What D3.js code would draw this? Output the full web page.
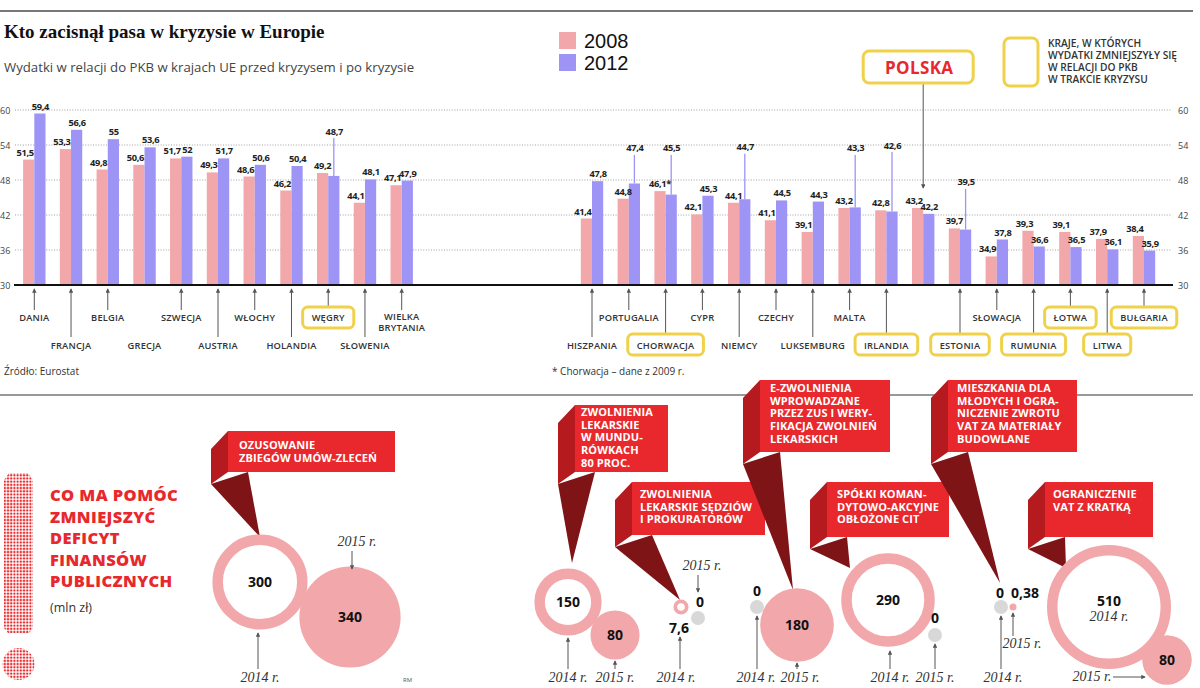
<!DOCTYPE html>
<html>
<head>
<meta charset="utf-8">
<script src="https://cdn.jsdelivr.net/npm/d3@7"></script>
<style>
  body { margin: 0; background: #fff; }
  svg text { font-family: "Open Sans", sans-serif; }
</style>
</head>
<body>
<svg width="1200" height="688"></svg>
<script>
// ---- data: expenditure as % of GDP
var westCountries = ["DANIA", "FRANCJA", "BELGIA", "GRECJA", "SZWECJA", "AUSTRIA", "WŁOCHY", "HOLANDIA", "WĘGRY", "SŁOWENIA", "WIELKA BRYTANIA"];
var west2008 = [51.5, 53.3, 49.8, 50.6, 51.7, 49.3, 48.6, 46.2, 49.2, 44.1, 47.1];
var west2012 = [59.4, 56.6, 55, 53.6, 52, 51.7, 50.6, 50.4, 48.7, 48.1, 47.9];

var eastCountries = ["HISZPANIA", "PORTUGALIA", "CHORWACJA", "CYPR", "NIEMCY", "CZECHY", "LUKSEMBURG", "MALTA", "IRLANDIA", "POLSKA", "ESTONIA", "SŁOWACJA", "RUMUNIA", "ŁOTWA", "LITWA", "BUŁGARIA"];
var east2008 = [41.4, 44.8, 46.1, 42.1, 44.1, 41.1, 39.1, 43.2, 42.8, 43.2, 39.7, 34.9, 39.3, 39.1, 37.9, 38.4];
var east2012 = [47.8, 47.4, 45.5, 45.3, 44.7, 44.5, 44.3, 43.3, 42.6, 42.2, 39.5, 37.8, 36.6, 36.5, 36.1, 35.9];

var yTicks = [30, 36, 42, 48, 54, 60];
var seriesNames = ["2008", "2012"];

// countries where spending fell (yellow boxes)
var decreased = ["WĘGRY", "CHORWACJA", "IRLANDIA", "POLSKA", "ESTONIA", "RUMUNIA", "ŁOTWA", "LITWA", "BUŁGARIA"];

// ---- data: measures to cut the deficit (mln zł)
var measures = [
  ["OZUSOWANIE", "ZBIEGÓW UMÓW-ZLECEŃ"],
  ["ZWOLNIENIA", "LEKARSKIE", "W MUNDU-", "RÓWKACH", "80 PROC."],
  ["ZWOLNIENIA", "LEKARSKIE SĘDZIÓW", "I PROKURATORÓW"],
  ["E-ZWOLNIENIA", "WPROWADZANE", "PRZEZ ZUS I WERY-", "FIKACJA ZWOLNIEŃ", "LEKARSKICH"],
  ["SPÓŁKI KOMAN-", "DYTOWO-AKCYJNE", "OBŁOŻONE CIT"],
  ["MIESZKANIA DLA", "MŁODYCH I OGRA-", "NICZENIE ZWROTU", "VAT ZA MATERIAŁY", "BUDOWLANE"],
  ["OGRANICZENIE", "VAT Z KRATKĄ"]
];
var value2014 = [300, 150, 7.6, 0, 290, 0, 510];
var value2015 = [340, 80, 0, 180, 0, 0.38, 80];

// ---- layout (label heights for raised 2012 values, in axis units)
var raisedLabel = {"WĘGRY": 55.8, "PORTUGALIA": 52.9, "CHORWACJA": 52.9, "NIEMCY": 53.1, "MALTA": 52.9, "IRLANDIA": 53.4, "ESTONIA": 47.1};
var noArrow = ["GRECJA"];

var calloutBoxes = [
  {x: 228, y: 431, w: 167, h: 41, tx: 11, ty: 18, tip: [260, 537]},
  {x: 575, y: 405, w: 93, h: 67, tx: 6, ty: 11, tip: [572, 563]},
  {x: 632, y: 482, w: 133, h: 53, tx: 8, ty: 16, tip: [680, 600]},
  {x: 760, y: 380, w: 130, h: 72, tx: 10, ty: 12, tip: [793, 590]},
  {x: 827, y: 482, w: 122, h: 55, tx: 10, ty: 16, tip: [850, 568]},
  {x: 948, y: 380, w: 129, h: 72, tx: 9, ty: 12, tip: [1000, 583]},
  {x: 1045, y: 482, w: 108, h: 55, tx: 8, ty: 16, tip: [1066, 568]}
];

var bubbleLayout = [
  {p14: [260, 582], p15: [350, 617], l14: [260, 587], l15: [350, 622], t14: [260, 682], a14: [258, 669, 258, 633], t15: [357, 546], a15: [352, 551, 352, 569]},
  {p14: [568, 602], p15: [615, 635], l14: [568, 607], l15: [615, 640], t14: [568, 682], a14: [568, 669, 568, 638], t15: [615, 682], a15: [615, 669, 615, 661]},
  {p14: [681, 607], p15: [698, 618], l14: [679, 633], l15: [700, 607], t14: [676, 682], a14: [680, 669, 680, 637], t15: [702, 570], a15: [698, 575, 698, 592]},
  {p14: [757, 607], p15: [797, 625], l14: [757, 596], l15: [797, 630], t14: [756, 682], a14: [757, 669, 757, 616], t15: [800, 682], a15: [797, 669, 797, 663]},
  {p14: [888, 600], p15: [935, 635], l14: [888, 605], l15: [935, 623], t14: [890, 682], a14: [890, 669, 890, 651], t15: [935, 682], a15: [935, 669, 935, 644]},
  {p14: [1001, 607], p15: [1013, 607], l14: [1000, 598], l15: [1025, 598], t14: [1003, 682], a14: [1001, 669, 1001, 616], t15: [1022, 648], a15: [1013, 636, 1013, 613]},
  {p14: [1109, 607], p15: [1167, 660], l14: [1109, 606], l15: [1167, 665], t14: null, a14: null, t15: [1092, 681], a15: [1113, 677, 1145, 677]}
];

var pink = "#f2a8aa", blue = "#9d94f5", yellow = "#f0d24a", red = "#e8282c";

var svg = d3.select("svg");

var defs = svg.append("defs");
defs.append("marker").attr("id", "arr")
  .attr("viewBox", "0 0 6 6").attr("refX", 5).attr("refY", 3)
  .attr("markerWidth", 4.5).attr("markerHeight", 4.5)
  .attr("markerUnits", "userSpaceOnUse").attr("orient", "auto")
  .append("path").attr("d", "M0,0L6,3L0,6z").attr("fill", "#555");
var pat = defs.append("pattern").attr("id", "dots")
  .attr("width", 3.2).attr("height", 3.2).attr("patternUnits", "userSpaceOnUse");
pat.append("circle").attr("cx", 1.6).attr("cy", 1.6).attr("r", 1.2).attr("fill", red);

// ---- frame, title
svg.append("line").attr("x1", 0).attr("x2", 1193).attr("y1", 11).attr("y2", 11)
  .attr("stroke", "#777").attr("stroke-width", 2);
svg.append("line").attr("x1", 0).attr("x2", 1193).attr("y1", 395).attr("y2", 395)
  .attr("stroke", "#777").attr("stroke-width", 1.5);

svg.append("text").attr("x", 4).attr("y", 38)
  .style("font-family", "'Liberation Serif', serif").style("font-weight", 700)
  .style("font-size", "19px").attr("fill", "#111")
  .text("Kto zacisnął pasa w kryzysie w Europie");
svg.append("text").attr("x", 4).attr("y", 72)
  .style("font-size", "13.2px").attr("fill", "#444")
  .text("Wydatki w relacji do PKB w krajach UE przed kryzysem i po kryzysie");

// legend
seriesNames.forEach(function(s, i) {
  svg.append("rect").attr("x", 559).attr("y", 32 + i * 22).attr("width", 17).attr("height", 17)
    .attr("fill", i ? blue : pink);
  svg.append("text").attr("x", 584).attr("y", 47.5 + i * 22.5)
    .style("font-family", "'Liberation Sans', sans-serif")
    .style("font-size", "20px").attr("fill", "#111").text(s);
});
svg.append("rect").attr("x", 1004).attr("y", 38).attr("width", 34).attr("height", 48)
  .attr("rx", 6).attr("fill", "none").attr("stroke", yellow).attr("stroke-width", 3);
["KRAJE, W KTÓRYCH", "WYDATKI ZMNIEJSZYŁY SIĘ", "W RELACJI DO PKB", "W TRAKCIE KRYZYSU"].forEach(function(t, i) {
  svg.append("text").attr("x", 1048).attr("y", 47 + i * 12)
    .style("font-size", "10.2px").style("font-weight", 600).attr("fill", "#333").text(t);
});

// ---- bar charts
var y = d3.scaleLinear().domain([30, 60]).range([285, 110]);
var xWest = d3.scalePoint().domain(westCountries).range([34.3, 401.7]);
var xEast = d3.scalePoint().domain(eastCountries).range([592, 1144]);
var bw = 11.2;

// grid
var grid = svg.append("g");
yTicks.forEach(function(t) {
  if (t > 30) {
    grid.append("line").attr("x1", 15).attr("x2", 1171).attr("y1", y(t)).attr("y2", y(t))
      .attr("stroke", "#8a8a8a").attr("stroke-width", 0.8).attr("stroke-dasharray", "1,1.6");
  }
  grid.append("text").attr("x", 0).attr("y", y(t) + 3.5).style("font-size", "9px").attr("fill", "#444").text(t);
  grid.append("text").attr("x", 1178).attr("y", y(t) + 3.5).style("font-size", "9px").attr("fill", "#444").text(t);
});

function fmt(v) { return String(v).replace(".", ","); }

function drawChart(countries, v08, v12, x, rowOffset) {
  var rows = countries.map(function(c, i) { return {c: c, a: v08[i], b: v12[i], i: i}; });
  var g = svg.append("g");

  g.selectAll(".b08").data(rows).enter().append("rect")
    .attr("x", function(d) { return x(d.c) - bw; })
    .attr("y", function(d) { return y(d.a); })
    .attr("width", bw)
    .attr("height", function(d) { return y(30) - y(d.a); })
    .attr("fill", pink);
  g.selectAll(".b12").data(rows).enter().append("rect")
    .attr("x", function(d) { return x(d.c); })
    .attr("y", function(d) { return y(d.b); })
    .attr("width", bw)
    .attr("height", function(d) { return y(30) - y(d.b); })
    .attr("fill", blue);

  // leader lines for raised labels
  g.selectAll(".lead").data(rows.filter(function(d) { return raisedLabel[d.c]; })).enter().append("line")
    .attr("x1", function(d) { return x(d.c) + bw / 2; })
    .attr("x2", function(d) { return x(d.c) + bw / 2; })
    .attr("y1", function(d) { return y(d.b); })
    .attr("y2", function(d) { return y(raisedLabel[d.c]) + 3.5; })
    .attr("stroke", blue).attr("stroke-width", 1.3);

  g.selectAll(".l08").data(rows).enter().append("text")
    .attr("x", function(d) { return x(d.c) - bw / 2 - (raisedLabel[d.c] ? 0 : 3.5); })
    .attr("y", function(d) { return y(d.a) - 4; })
    .attr("text-anchor", "middle")
    .style("font-size", "9.3px").style("font-weight", 700).style("letter-spacing", "-0.3px")
    .attr("fill", "#222")
    .text(function(d) { return fmt(d.a) + (d.c === "CHORWACJA" ? "*" : ""); });
  g.selectAll(".l12").data(rows).enter().append("text")
    .attr("x", function(d) { return x(d.c) + bw / 2 + 0.5; })
    .attr("y", function(d) { return raisedLabel[d.c] ? y(raisedLabel[d.c]) : y(d.b) - 4; })
    .attr("text-anchor", "middle")
    .style("font-size", "9.3px").style("font-weight", 700).style("letter-spacing", "-0.3px")
    .attr("fill", "#222")
    .text(function(d) { return fmt(d.b); });

  // country labels below axis, alternating rows
  rows.forEach(function(d) {
    if (d.c === "POLSKA") return;
    var row = (d.i + rowOffset) % 2;
    var boxed = decreased.indexOf(d.c) >= 0;
    var ty = row ? 348.5 : 321;
    var top = boxed ? (row ? 334 : 307) : (row ? 338 : 311);
    var lg = g.append("g");
    if (noArrow.indexOf(d.c) < 0) {
      lg.append("line").attr("x1", x(d.c)).attr("x2", x(d.c)).attr("y1", top - 1).attr("y2", 289)
        .attr("stroke", "#555").attr("stroke-width", 1).attr("marker-end", "url(#arr)");
    }
    var parts = d.c.split(" ");
    parts.forEach(function(p, k) {
      lg.append("text").attr("x", x(d.c)).attr("y", (parts.length > 1 ? ty - 1 : ty) + k * 11)
        .attr("text-anchor", "middle").style("font-size", "9.3px").style("font-weight", 600)
        .style("letter-spacing", "0.2px").attr("fill", "#333").text(p);
    });
    if (boxed) {
      var w = lg.select("text").node().getComputedTextLength() + 18;
      lg.insert("rect", "text").attr("x", x(d.c) - w / 2).attr("y", top).attr("width", w).attr("height", 21)
        .attr("rx", 5).attr("fill", "#fff").attr("stroke", yellow).attr("stroke-width", 3);
    }
  });
}

drawChart(westCountries, west2008, west2012, xWest, 0);
drawChart(eastCountries, east2008, east2012, xEast, 1);

// baseline
svg.append("line").attr("x1", 14).attr("x2", 1173).attr("y1", y(30)).attr("y2", y(30))
  .attr("stroke", "#111").attr("stroke-width", 2.2);

// Polska label on top
var px = xEast("POLSKA");
svg.append("line").attr("x1", px).attr("x2", px).attr("y1", 83).attr("y2", 188)
  .attr("stroke", "#555").attr("stroke-width", 1).attr("marker-end", "url(#arr)");
svg.append("rect").attr("x", px - 60).attr("y", 51).attr("width", 110).attr("height", 32)
  .attr("rx", 6).attr("fill", "#fff").attr("stroke", yellow).attr("stroke-width", 3);
svg.append("text").attr("x", px - 4).attr("y", 74).attr("text-anchor", "middle")
  .style("font-size", "17px").style("font-weight", 700).style("letter-spacing", "0.4px")
  .attr("fill", red).text("POLSKA");

svg.append("text").attr("x", 4).attr("y", 375).style("font-size", "10px").attr("fill", "#333").text("Źródło: Eurostat");
svg.append("text").attr("x", 552).attr("y", 375).style("font-size", "10px").attr("fill", "#333").text("* Chorwacja – dane z 2009 r.");

// ---- bottom: exclamation mark and heading
svg.append("path").attr("d", "M9,473L28,473L33,480L33,628L29,633L8,633L4,628L4,480Z").attr("fill", "url(#dots)");
svg.append("circle").attr("cx", 18.5).attr("cy", 664).attr("r", 16).attr("fill", "url(#dots)");
["CO MA POMÓC", "ZMNIEJSZYĆ", "DEFICYT", "FINANSÓW", "PUBLICZNYCH"].forEach(function(t, i) {
  svg.append("text").attr("x", 50).attr("y", 501 + i * 21.6)
    .style("font-size", "16.5px").style("font-weight", 800).style("letter-spacing", "0.4px")
    .attr("fill", red).text(t);
});
svg.append("text").attr("x", 50).attr("y", 612).style("font-size", "12.5px").attr("fill", "#333").text("(mln zł)");
svg.append("text").attr("x", 403).attr("y", 682).style("font-size", "6px").attr("fill", "#555").text("RM");

// ---- callouts
var callouts = svg.append("g");
calloutBoxes.forEach(function(b, i) {
  var d = 17;
  callouts.append("polygon")
    .attr("points", [[b.x - d, b.y + b.h + 12], [b.x + 20, b.y + b.h], b.tip].join(" "))
    .attr("fill", "#7f1417");
  callouts.append("polygon")
    .attr("points", [[b.x, b.y], [b.x - d, b.y + 18], [b.x - d, b.y + b.h + 12], [b.x, b.y + b.h]].join(" "))
    .attr("fill", "#b51a1e");
  callouts.append("rect").attr("x", b.x).attr("y", b.y).attr("width", b.w).attr("height", b.h).attr("fill", red);
  measures[i].forEach(function(line, k) {
    callouts.append("text").attr("x", b.x + b.tx).attr("y", b.y + b.ty + k * 12.7)
      .style("font-size", "11px").style("font-weight", 700).style("letter-spacing", "0.1px")
      .attr("fill", "#fff").text(line);
  });
});

// ---- bubbles
var r = d3.scaleSqrt().domain([0, 510]).range([0, 62]);
var bub = svg.append("g");

function drawBubble(v, ring, p) {
  if (v === 0) {
    bub.append("circle").attr("cx", p[0]).attr("cy", p[1]).attr("r", 7).attr("fill", "#d8d8d8");
  } else if (ring) {
    var rr = r(v), sw = Math.min(10.5, rr * 0.5);
    bub.append("circle").attr("cx", p[0]).attr("cy", p[1]).attr("r", rr - sw / 2)
      .attr("fill", "#fff").attr("stroke", pink).attr("stroke-width", sw);
  } else {
    bub.append("circle").attr("cx", p[0]).attr("cy", p[1]).attr("r", Math.max(3.5, r(v))).attr("fill", pink);
  }
}
function valueLabel(v, p) {
  bub.append("text").attr("x", p[0]).attr("y", p[1]).attr("text-anchor", "middle")
    .style("font-size", "14px").style("font-weight", 700).attr("fill", "#111").text(fmt(v));
}
function yearLabel(t, p, a) {
  if (a) {
    bub.append("line").attr("x1", a[0]).attr("y1", a[1]).attr("x2", a[2]).attr("y2", a[3])
      .attr("stroke", "#555").attr("stroke-width", 1).attr("marker-end", "url(#arr)");
  }
  bub.append("text").attr("x", p[0]).attr("y", p[1]).attr("text-anchor", "middle")
    .style("font-family", "'Liberation Serif', serif").style("font-style", "italic")
    .style("font-size", "14px").attr("fill", "#333").text(t);
}

bubbleLayout.forEach(function(L, i) {
  drawBubble(value2015[i], false, L.p15);
  drawBubble(value2014[i], true, L.p14);
  valueLabel(value2014[i], L.l14);
  valueLabel(value2015[i], L.l15);
  if (L.t14) yearLabel("2014 r.", L.t14, L.a14);
  else yearLabel("2014 r.", [L.l14[0], L.l14[1] + 15], null);
  yearLabel("2015 r.", L.t15, L.a15);
});
// 2015 circle in the last pair sits above the ring
drawBubble(value2015[6], false, bubbleLayout[6].p15);
valueLabel(value2015[6], bubbleLayout[6].l15);
</script>
</body>
</html>
